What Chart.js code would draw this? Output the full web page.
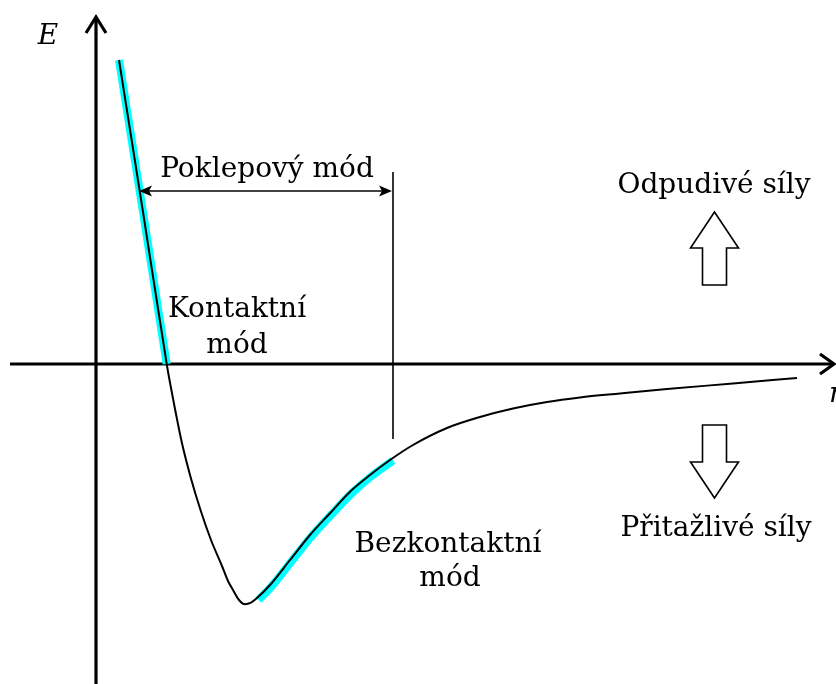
<!DOCTYPE html>
<html>
<head>
<meta charset="utf-8">
<script src="https://cdn.jsdelivr.net/npm/chart.js@4/dist/chart.umd.min.js"></script>
<style>
html,body{margin:0;padding:0;background:#fff;}
canvas{display:block;}
</style>
</head>
<body>
<canvas id="c" width="836" height="684"></canvas>
<script>
// Potential energy curve E(r) (r, E in arbitrary units)
const rValues = [0.23, 0.47, 0.707, 0.735, 0.792, 0.86, 0.945, 1.045, 1.15, 1.26, 1.32, 1.37, 1.43, 1.49, 1.55, 1.607, 1.74, 1.94, 2.14, 2.34, 2.54, 2.74, 2.94, 3.17, 3.51, 3.84, 4.17, 4.51, 4.84, 5.24, 5.71, 6.37, 7.01];
const eValues = [3.04, 1.52, 0.00, -0.16, -0.46, -0.793, -1.127, -1.46, -1.76, -2.02, -2.17, -2.26, -2.36, -2.403, -2.387, -2.343, -2.21, -1.96, -1.71, -1.493, -1.277, -1.11, -0.96, -0.81, -0.64, -0.53, -0.445, -0.38, -0.335, -0.295, -0.25, -0.195, -0.14];
// highlighted ranges (cyan)
const contactR = [0.23, 0.47, 0.707];
const contactE = [3.04, 1.52, 0.00];
const noncontactR = [1.625, 1.75, 1.95, 2.15, 2.35, 2.55, 2.75, 2.97];
const noncontactE = [-2.36, -2.23, -1.98, -1.73, -1.51, -1.30, -1.125, -0.965];
// labels
const axisLabelE = "E";
const axisLabelR = "r";
const tappingLabel = "Poklepový mód";
const contactLabel = ["Kontaktní", "mód"];
const noncontactLabel = ["Bezkontaktní", "mód"];
const repulsiveLabel = "Odpudivé síly";
const attractiveLabel = "Přitažlivé síly";
const tappingLimitR = 2.97;

const toPts = (xs, ys) => xs.map((x, i) => ({x: x, y: ys[i]}));

const FONT = '"DejaVu Serif", "Liberation Serif", serif';

const deco = {
  id: 'deco',
  beforeDatasetsDraw(chart) {
    const ctx = chart.ctx;
    const xs = chart.scales.x, ys = chart.scales.y;
    const X = v => xs.getPixelForValue(v), Y = v => ys.getPixelForValue(v);
    const x0 = X(0), y0 = Y(0);
    ctx.save();
    ctx.strokeStyle = '#000';
    ctx.lineWidth = 3.2;
    ctx.lineCap = 'butt';
    // y axis
    ctx.beginPath();
    ctx.moveTo(x0, chart.height);
    ctx.lineTo(x0, 18);
    ctx.stroke();
    ctx.lineJoin = 'miter';
    ctx.beginPath();
    ctx.moveTo(x0 - 10, 33);
    ctx.lineTo(x0, 17);
    ctx.lineTo(x0 + 10, 33);
    ctx.stroke();
    // x axis
    ctx.beginPath();
    ctx.moveTo(10, y0);
    ctx.lineTo(832, y0);
    ctx.stroke();
    ctx.beginPath();
    ctx.moveTo(820, y0 - 10);
    ctx.lineTo(834, y0);
    ctx.lineTo(820, y0 + 10);
    ctx.stroke();
    ctx.restore();
  },
  afterDatasetsDraw(chart) {
    const ctx = chart.ctx;
    const xs = chart.scales.x, ys = chart.scales.y;
    const X = v => xs.getPixelForValue(v), Y = v => ys.getPixelForValue(v);
    ctx.save();
    ctx.strokeStyle = '#000';
    ctx.fillStyle = '#000';
    // tapping mode limit line
    const xl = X(tappingLimitR);
    ctx.lineWidth = 1.6;
    ctx.beginPath();
    ctx.moveTo(xl, Y(1.92));
    ctx.lineTo(xl, Y(-0.75));
    ctx.stroke();
    // double arrow
    const ya = Y(1.73);
    const xa1 = X(0.43), xa2 = xl - 1;
    ctx.lineWidth = 1.6;
    ctx.beginPath();
    ctx.moveTo(xa1 + 6, ya);
    ctx.lineTo(xa2 - 6, ya);
    ctx.stroke();
    ctx.beginPath();
    ctx.moveTo(xa1, ya);
    ctx.lineTo(xa1 + 13, ya - 5.5);
    ctx.lineTo(xa1 + 10, ya);
    ctx.lineTo(xa1 + 13, ya + 5.5);
    ctx.closePath();
    ctx.fill();
    ctx.beginPath();
    ctx.moveTo(xa2, ya);
    ctx.lineTo(xa2 - 13, ya - 5.5);
    ctx.lineTo(xa2 - 10, ya);
    ctx.lineTo(xa2 - 13, ya + 5.5);
    ctx.closePath();
    ctx.fill();

    // hollow arrows
    const ax = 714.5;
    ctx.lineWidth = 1.6;
    ctx.lineJoin = 'miter';
    ctx.beginPath(); // up
    ctx.moveTo(ax, 212);
    ctx.lineTo(ax + 24, 248);
    ctx.lineTo(ax + 12, 248);
    ctx.lineTo(ax + 12, 285);
    ctx.lineTo(ax - 12, 285);
    ctx.lineTo(ax - 12, 248);
    ctx.lineTo(ax - 24, 248);
    ctx.closePath();
    ctx.stroke();
    ctx.beginPath(); // down
    ctx.moveTo(ax, 498);
    ctx.lineTo(ax + 24, 462);
    ctx.lineTo(ax + 12, 462);
    ctx.lineTo(ax + 12, 425);
    ctx.lineTo(ax - 12, 425);
    ctx.lineTo(ax - 12, 462);
    ctx.lineTo(ax - 24, 462);
    ctx.closePath();
    ctx.stroke();

    // texts
    ctx.textAlign = 'center';
    ctx.textBaseline = 'alphabetic';
    ctx.font = '28px ' + FONT;
    ctx.fillText(tappingLabel, 267, 177);
    ctx.fillText(contactLabel[0], 237, 317);
    ctx.fillText(contactLabel[1], 237, 353);
    ctx.fillText(noncontactLabel[0], 448, 552);
    ctx.fillText(noncontactLabel[1], 450, 586);
    ctx.fillText(repulsiveLabel, 714, 193);
    ctx.fillText(attractiveLabel, 716, 536);
    ctx.font = 'italic 28px ' + FONT;
    ctx.fillText(axisLabelE, 48, 44);
    ctx.textAlign = 'left';
    ctx.fillText(axisLabelR, 829, 402);
    ctx.restore();
  }
};

new Chart(document.getElementById('c'), {
  type: 'scatter',
  data: {
    datasets: [
      {
        data: toPts(rValues, eValues),
        showLine: true,
        borderColor: '#000',
        borderWidth: 2,
        pointRadius: 0,
        cubicInterpolationMode: 'monotone',
        order: 0
      },
      {
        data: toPts(contactR, contactE),
        showLine: true,
        borderColor: '#00FFFF',
        borderWidth: 8,
        pointRadius: 0,
        borderCapStyle: 'butt',
        cubicInterpolationMode: 'monotone',
        order: 1
      },
      {
        data: toPts(noncontactR, noncontactE),
        showLine: true,
        borderColor: '#00FFFF',
        borderWidth: 8,
        pointRadius: 0,
        borderCapStyle: 'butt',
        cubicInterpolationMode: 'monotone',
        order: 1
      }
    ]
  },
  options: {
    responsive: false,
    devicePixelRatio: 1,
    animation: false,
    layout: {padding: 0},
    plugins: {legend: {display: false}, tooltip: {enabled: false}},
    scales: {
      x: {type: 'linear', display: false, min: -0.96, max: 7.40},
      y: {type: 'linear', display: false, min: -3.20, max: 3.64}
    }
  },
  plugins: [deco]
});
</script>
</body>
</html>
